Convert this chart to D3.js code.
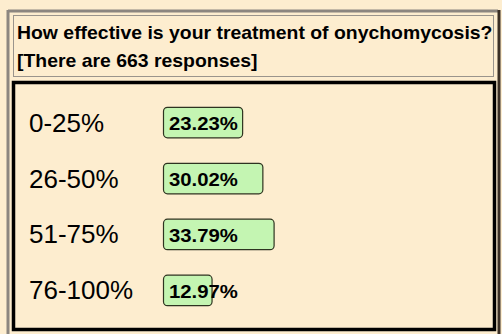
<!DOCTYPE html>
<html><head><meta charset="utf-8">
<script src="https://cdn.jsdelivr.net/npm/d3@7"></script>
<style>
html,body{margin:0;padding:0;background:#fdedcf;}
svg{display:block;}
</style></head>
<body>
<svg id="c" width="502" height="334"></svg>
<script>
const titleLines = ["How effective is your treatment of onychomycosis?", "[There are 663 responses]"];
const categories = ["0-25%", "26-50%", "51-75%", "76-100%"];
const values = [23.23, 30.02, 33.79, 12.97];
const valueLabels = ["23.23%", "30.02%", "33.79%", "12.97%"];

const svg = d3.select("#c");
const bg = "#fdedcf";
svg.append("rect").attr("width",502).attr("height",334).attr("fill",bg);

// outer frame (inset look)
svg.append("line").attr("x1",8).attr("y1",11).attr("x2",498).attr("y2",11).attr("stroke","#8c8680").attr("stroke-width",3);
svg.append("line").attr("x1",8).attr("y1",10).attr("x2",8).attr("y2",334).attr("stroke","#8c8680").attr("stroke-width",3);
svg.append("line").attr("x1",499).attr("y1",10).attr("x2",499).attr("y2",334).attr("stroke","#3a2f25").attr("stroke-width",3);

// title box
svg.append("rect").attr("x",13.5).attr("y",15.5).attr("width",480).attr("height",61)
  .attr("fill",bg).attr("stroke","#9a948c").attr("stroke-width",1);
const titleSx = 1.097;
svg.selectAll("text.title").data(titleLines).join("text").attr("class","title")
  .attr("transform",(d,i)=>`translate(17,${39+i*27.5}) scale(${titleSx},1)`)
  .attr("font-family","Liberation Sans, Arial, sans-serif").attr("font-weight","bold")
  .attr("font-size",17.7).attr("fill","#000").text(d=>d);

// panel
svg.append("rect").attr("x",13.5).attr("y",82.5).attr("width",481).attr("height",247)
  .attr("fill",bg).attr("stroke","#000").attr("stroke-width",3.5);

const y = d3.scaleBand().domain(categories).range([94.5, 318.5]).paddingInner(0.455).paddingOuter(0.23);
const x = d3.scaleLinear().domain([0,100]).range([173.4, 471.4]);
const barX0 = 163.5;

const g = svg.append("g");
const rows = g.selectAll("g.row").data(categories).join("g").attr("class","row");

rows.append("text").attr("x",29).attr("y",d=>y(d)+y.bandwidth()/2+9)
  .attr("font-family","Liberation Sans, Arial, sans-serif").attr("font-size",26)
  .attr("fill","#000").text(d=>d);

rows.append("rect").attr("x",barX0).attr("y",d=>y(d))
  .attr("width",(d,i)=>x(values[i])-barX0).attr("height",y.bandwidth())
  .attr("rx",4).attr("ry",4)
  .attr("fill","#c4f5b2").attr("stroke","#2e3320").attr("stroke-width",1.2);

const labSx = 1.07;
rows.append("text")
  .attr("transform",d=>`translate(169,${y(d)+y.bandwidth()/2+7.5}) scale(${labSx},1)`)
  .attr("font-family","Liberation Sans, Arial, sans-serif").attr("font-weight","bold")
  .attr("font-size",19).attr("fill","#000")
  .text((d,i)=>valueLabels[i]);
</script>
</body></html>
